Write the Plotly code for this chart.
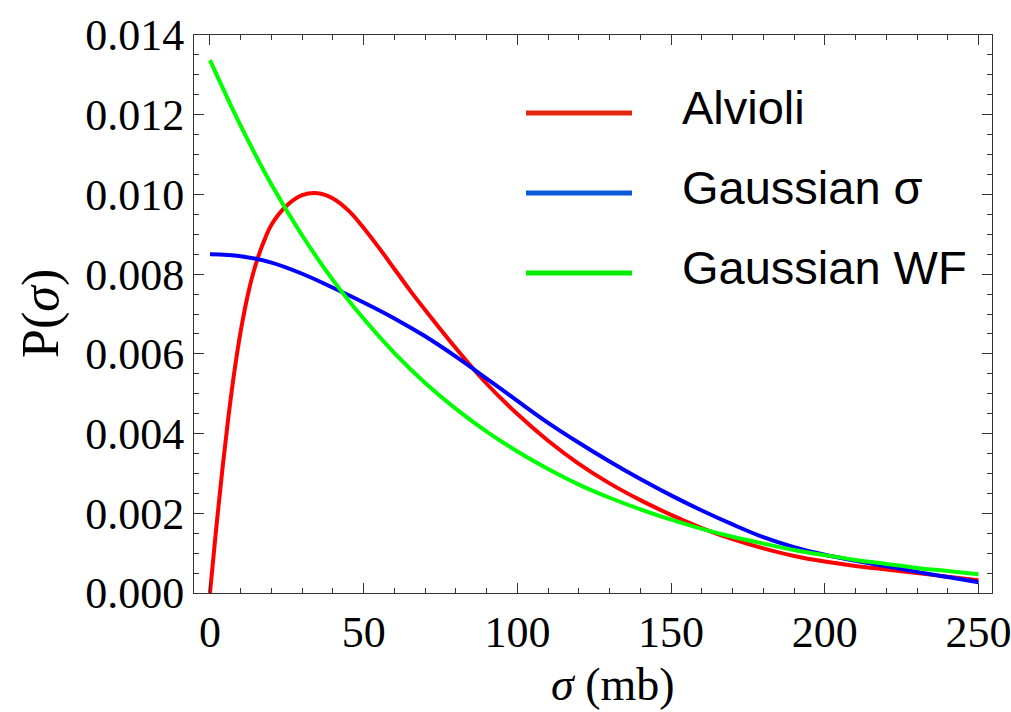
import plotly.graph_objects as go

# ---------------- data ----------------
sigma_alvioli = [0, 2, 4, 6, 8, 10, 12, 14, 16, 18, 20, 25, 30, 35, 40, 45, 50, 55, 60, 65,
                 70, 80, 90, 100, 110, 120, 130, 140, 150, 160, 170, 180, 190, 200, 210,
                 220, 230, 240, 250]
p_alvioli = [0.0, 0.00160, 0.00308, 0.00442, 0.00559, 0.00657, 0.00737, 0.00801, 0.00851,
             0.00891, 0.00924, 0.00972, 0.00998, 0.01003, 0.00990, 0.00960, 0.00916,
             0.00866, 0.00813, 0.00760, 0.00710, 0.00614, 0.00525, 0.00449, 0.00382,
             0.00324, 0.00275, 0.00233, 0.00196, 0.00163, 0.00135, 0.00112, 0.00093,
             0.00079, 0.00068, 0.00059, 0.00050, 0.00041, 0.00032]

sigma_grid = [0, 10, 20, 30, 40, 50, 60, 70, 80, 90, 100, 110, 120, 130, 140, 150, 160,
              170, 180, 190, 200, 210, 220, 230, 240, 250]
p_gauss_sigma = [0.00850, 0.00845, 0.00829, 0.00801, 0.00766, 0.00729, 0.00689, 0.00644,
                 0.00593, 0.00538, 0.00482, 0.00427, 0.00377, 0.00330, 0.00286, 0.00245,
                 0.00207, 0.00172, 0.00140, 0.00115, 0.00096, 0.00081, 0.00067, 0.00053,
                 0.00040, 0.00027]
p_gauss_wf = [0.01337, 0.01172, 0.01025, 0.00897, 0.00785, 0.00688, 0.00602, 0.00527,
              0.00462, 0.00405, 0.00355, 0.00311, 0.00272, 0.00239, 0.00210, 0.00184,
              0.00161, 0.00141, 0.00124, 0.00108, 0.00095, 0.00083, 0.00073, 0.00063,
              0.00055, 0.00047]

series_names = ["Alvioli", "Gaussian σ", "Gaussian WF"]
series_colors = ["#ff0000", "#0000ff", "#00ff00"]
legend_colors = ["#e3260c", "#0a5bd6", "#00ec00"]

x_ticks = [0, 50, 100, 150, 200, 250]
y_ticks = [0.000, 0.002, 0.004, 0.006, 0.008, 0.010, 0.012, 0.014]

# ---------------- layout geometry ----------------
W, H = 1011, 712
L, R, T, B = 194, 19, 35, 119
PW, PH = W - L - R, H - T - B


def px(xp):
    return (xp - L) / PW


def py(yp):
    return (H - B - yp) / PH


fig = go.Figure()
xs_list = [sigma_alvioli, sigma_grid, sigma_grid]
ys_list = [p_alvioli, p_gauss_sigma, p_gauss_wf]
for name, col, xs, ys in zip(series_names, series_colors, xs_list, ys_list):
    fig.add_trace(go.Scatter(x=xs, y=ys, mode="lines", name=name,
                             line=dict(color=col, width=4, shape="spline", smoothing=1.0),
                             showlegend=False))

serif = "Liberation Serif, Times New Roman, serif"
sans = "Liberation Sans, Arial, sans-serif"
frame_col = "#333333"

axis_common = dict(showline=True, linecolor=frame_col, linewidth=1, mirror="allticks",
                   ticks="inside", ticklen=10, tickwidth=1, tickcolor=frame_col,
                   showgrid=False, zeroline=False, automargin=False,
                   ticklabeloverflow="allow",
                   tickfont=dict(family=serif, size=44, color="black"))

fig.update_xaxes(range=[-5.2, 254.4], tickvals=x_ticks,
                 ticktext=[str(v) for v in x_ticks],
                 minor=dict(dtick=10, tick0=0, ticks="inside", ticklen=5, tickcolor=frame_col,
                            showgrid=False),
                 **axis_common)
fig.update_yaxes(range=[0, 0.014], tickvals=y_ticks,
                 ticktext=[f"{v:.3f}" for v in y_ticks],
                 minor=dict(dtick=0.0005, tick0=0, ticks="inside", ticklen=5, tickcolor=frame_col,
                            showgrid=False),
                 **axis_common)

annotations = []
shapes = []
# custom legend
leg_y = [113, 193, 273]
for name, col, yy in zip(series_names, legend_colors, leg_y):
    shapes.append(dict(type="line", xref="paper", yref="paper",
                       x0=px(526), x1=px(632), y0=py(yy), y1=py(yy),
                       line=dict(color=col, width=5)))
    annotations.append(dict(xref="paper", yref="paper", x=px(680), y=py(yy - 6),
                            xanchor="left", yanchor="middle", showarrow=False,
                            text=name, font=dict(family=sans, size=47, color="black")))

# axis titles
annotations.append(dict(xref="paper", yref="paper", x=px(613), y=py(684),
                        xanchor="center", yanchor="middle", showarrow=False,
                        text="<i>σ</i> (mb)", font=dict(family=serif, size=46, color="black")))
annotations.append(dict(xref="paper", yref="paper", x=px(41), y=py(314),
                        xanchor="center", yanchor="middle", showarrow=False, textangle=-90,
                        text="P(<i>σ</i>)", font=dict(family=serif, size=52, color="black")))

fig.update_layout(template="none", width=W, height=H, margin=dict(l=L, r=R, t=T, b=B),
                  paper_bgcolor="white", plot_bgcolor="white",
                  annotations=annotations, shapes=shapes, showlegend=False)

fig.write_html("out.html")
